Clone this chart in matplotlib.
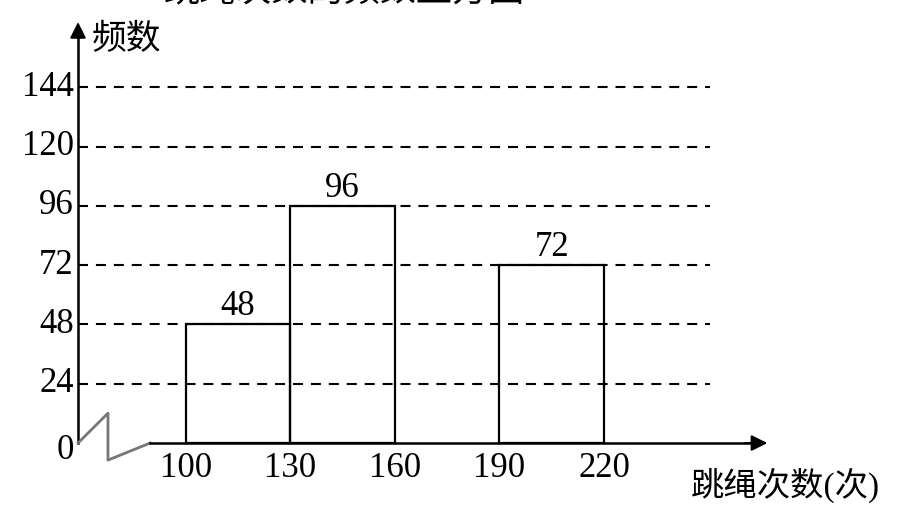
import matplotlib.pyplot as plt
from matplotlib.patches import Rectangle

plt.rcParams['font.family'] = ['Liberation Serif', 'Noto Sans CJK SC', 'DejaVu Sans']

# histogram data
edges = [100, 130, 160, 190, 220]
counts = [48, 96, 0, 72]
yticks = [0, 24, 48, 72, 96, 120, 144]

fig = plt.figure(figsize=(8.99, 5.11), dpi=100)
ax = fig.add_axes([0, 0, 1, 1])
ax.set_xlim(46.6, 304.7)
ax.set_ylim(-27.5, 179.3)
ax.axis('off')

yaxis_x = 69.0
grid_end = 250.4
xarrow_end = 267.7
yarrow_end = 171.5

# dashed grid lines
for t in yticks[1:]:
    ax.plot([yaxis_x, grid_end], [t, t], ls=(0, (4.8, 3.8)), color='black', lw=1.5)

# bars
for i, c in enumerate(counts):
    if c == 0:
        continue
    ax.add_patch(Rectangle((edges[i], 0), edges[i + 1] - edges[i], c,
                           fill=False, ec='black', lw=1.6))
    ax.text((edges[i] + edges[i + 1]) / 2, c + 0.5, str(c), ha='center', va='bottom', fontsize=25)

# axes with break
ax.plot([yaxis_x, yaxis_x], [0, yarrow_end - 4], color='black', lw=1.8)
ax.annotate('', xy=(yaxis_x, yarrow_end), xytext=(yaxis_x, yarrow_end - 6),
            arrowprops=dict(arrowstyle='-|>', color='black', lw=1.5, mutation_scale=24))
ax.plot([yaxis_x, 77.6, 77.6, 89.7], [0, 12.1, -6.9, 0], color='#777777', lw=2)
ax.plot([89.7, xarrow_end - 5], [0, 0], color='black', lw=1.8)
ax.annotate('', xy=(xarrow_end, 0), xytext=(xarrow_end - 8, 0),
            arrowprops=dict(arrowstyle='-|>', color='black', lw=1.5, mutation_scale=24))

# tick labels
for t in yticks:
    ax.text(yaxis_x - 1.2, t - (3 if t == 0 else 0), str(t), ha='right', va='center', fontsize=25)
for e in edges:
    ax.text(e, -3.5, str(e), ha='center', va='top', fontsize=25)

ax.text(yaxis_x + 4, 163, '频数', ha='left', va='center', fontsize=25)
ax.text(299.3, -17, '跳绳次数(次)', ha='right', va='center', fontsize=24)
# title, cut off at top of image (as in the source picture)
ax.text(145.6, 175.5, '跳绳次数的频数直方图', ha='center', va='bottom', fontsize=26)

fig.savefig('out.png', dpi=100)
